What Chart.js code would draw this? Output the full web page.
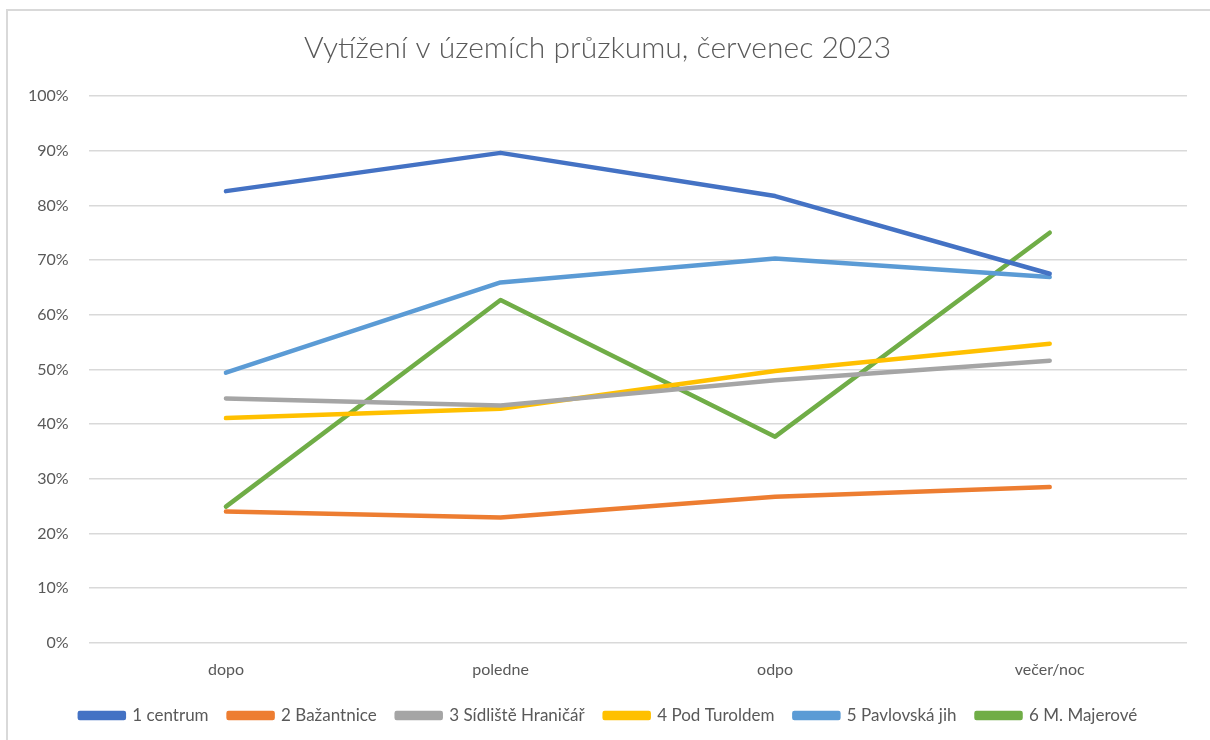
<!DOCTYPE html>
<html>
<head>
<meta charset="utf-8">
<script src="https://cdn.jsdelivr.net/npm/chart.js@4"></script>
<style>
html,body{margin:0;padding:0;background:#fff;width:1210px;height:740px;overflow:hidden;}
#frame{position:absolute;left:6px;top:9px;width:1220px;height:760px;border-left:2px solid #d9d9d9;border-top:2px solid #d9d9d9;}
#wrap{position:absolute;left:0;top:0;width:1210px;height:740px;}
</style>
</head>
<body>
<div id="frame"></div>
<div id="wrap"><canvas id="c" width="1210" height="740"></canvas></div>
<script>
const categories = ["dopo", "poledne", "odpo", "večer/noc"];
const seriesNames = ["1 centrum", "2 Bažantnice", "3 Sídliště Hraničář", "4 Pod Turoldem", "5 Pavlovská jih", "6 M. Majerové"];
const centrum = [0.826, 0.896, 0.817, 0.675];
const bazantnice = [0.240, 0.229, 0.267, 0.285];
const sidliste = [0.447, 0.434, 0.480, 0.516];
const podTuroldem = [0.411, 0.428, 0.497, 0.547];
const pavlovska = [0.494, 0.659, 0.703, 0.669];
const majerove = [0.249, 0.627, 0.377, 0.750];
const yTicks = [0, 0.1, 0.2, 0.3, 0.4, 0.5, 0.6, 0.7, 0.8, 0.9, 1.0];
const colors = ["#4472C4", "#ED7D31", "#A5A5A5", "#FFC000", "#5B9BD5", "#70AD47"];
const values = [centrum, bazantnice, sidliste, podTuroldem, pavlovska, majerove];

const FONT = "Lato, 'Open Sans', sans-serif";

// Tighten the legend box vertically and nudge it into place
const legendTweak = {
  id: 'legendTweak',
  afterInit(chart) {
    const lg = chart.legend;
    if (lg && !lg._tweaked) {
      const origFit = lg.fit.bind(lg);
      lg.fit = function () { origFit(); this.height -= 6; };
      lg._tweaked = true;
    }
  },
  afterLayout(chart) {
    const lg = chart.legend;
    if (lg) {
      lg.top -= 9; lg.bottom -= 9;
      lg.left += 11; lg.right += 11;
    }
  }
};

new Chart(document.getElementById('c'), {
  type: 'line',
  plugins: [legendTweak],
  data: {
    labels: categories,
    datasets: values.map((v, i) => ({
      label: seriesNames[i],
      data: v,
      borderColor: colors[i],
      backgroundColor: colors[i],
      borderWidth: 4.5,
      pointRadius: 0,
      pointHoverRadius: 0,
      tension: 0,
      fill: false,
      borderCapStyle: 'round',
      borderJoinStyle: 'round'
    }))
  },
  options: {
    responsive: false,
    animation: false,
    layout: { padding: { left: 8, right: 23, top: 30, bottom: 3 } },
    plugins: {
      title: {
        display: true,
        text: "Vytížení v územích průzkumu, červenec 2023",
        color: '#595959',
        font: { family: FONT, size: 30, weight: '300' },
        padding: { top: 0, bottom: 30 }
      },
      legend: {
        position: 'bottom',
        labels: {
          color: '#595959',
          font: { family: FONT, size: 17 },
          boxWidth: 44,
          boxHeight: 5,
          padding: 20
        }
      },
      tooltip: { enabled: false }
    },
    scales: {
      x: {
        offset: true,
        grid: { display: false, drawTicks: false },
        border: { display: false },
        ticks: { color: '#595959', font: { family: FONT, size: 16 }, padding: 17 }
      },
      y: {
        min: 0,
        max: 1,
        afterBuildTicks: (axis) => { axis.ticks = yTicks.map(v => ({ value: v })); },
        grid: { color: '#d9d9d9', lineWidth: 1.5, drawTicks: false },
        border: { display: false },
        ticks: {
          color: '#595959',
          font: { family: FONT, size: 16 },
          padding: 20,
          callback: (v) => Math.round(v * 100) + '%'
        }
      }
    }
  }
});
</script>
</body>
</html>
